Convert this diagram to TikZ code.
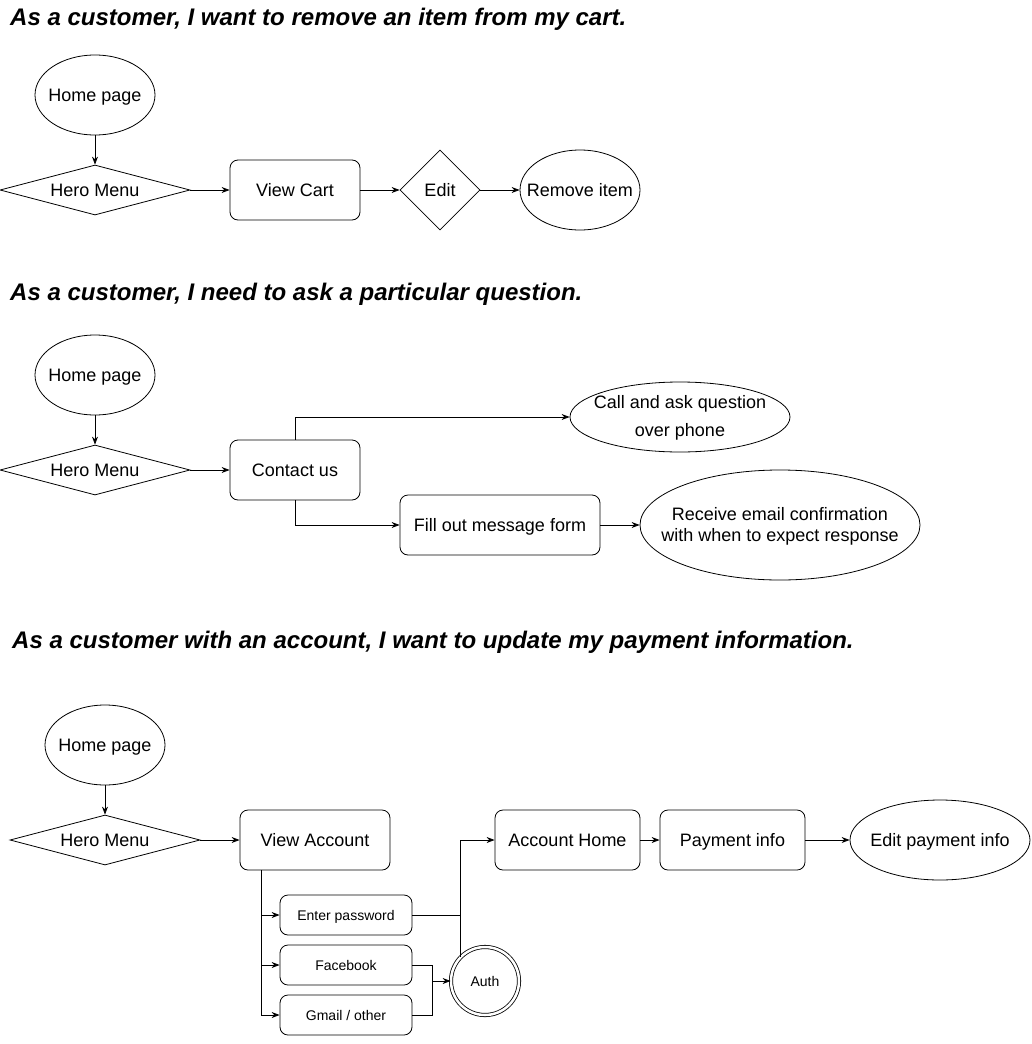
\documentclass[tikz,border=0pt]{standalone}
\usepackage{fontspec}
\setmainfont{Liberation Sans}
\usetikzlibrary{shapes.geometric,arrows.meta}
\tikzset{
  txt/.style={font=\fontsize{18}{21}\selectfont, align=center, inner sep=0pt},
  one/.style={text height=12.9pt, text depth=0pt},
  base/.style={draw=black, line width=0.8pt, inner sep=0pt},
  rbox/.style={base, rectangle, rounded corners=8pt},
  ell/.style={base, ellipse},
  dia/.style={base, diamond},
  title/.style={anchor=base west, inner sep=0pt, font=\fontsize{24}{28}\selectfont\bfseries\itshape},
  conn/.style={draw, line width=0.8pt, -{Stealth[length=8pt,width=6pt]}},
  small/.style={font=\fontsize{14}{17}\selectfont, align=center, inner sep=0pt, text height=10pt, text depth=0pt}
}
\begin{document}
\begin{tikzpicture}[x=1pt,y=-1pt]
\useasboundingbox (0,0) rectangle (1031,1044);

% ---------- Section 1 ----------
\node[title] (t1) at (10,25) {As a customer, I want to remove an item from my cart.};
\node[ell, minimum width=120pt, minimum height=80pt] (h1) at (95,95) {};
\node[txt, one] (h1t) at (h1) {Home page};
\node[dia, minimum width=190pt, minimum height=50pt] (m1) at (95,190) {};
\node[txt, one] (m1t) at (m1) {Hero Menu};
\node[rbox, minimum width=130pt, minimum height=60pt] (vc) at (295,190) {};
\node[txt, one] (vct) at (vc) {View Cart};
\node[dia, minimum width=80pt, minimum height=80pt] (ed) at (440,190) {};
\node[txt, one] (edt) at (ed) {Edit};
\node[ell, minimum width=120pt, minimum height=80pt] (ri) at (580,190) {};
\node[txt, one] (rit) at (ri) {Remove item};
\draw[conn] (h1) -- (m1);
\draw[conn] (m1) -- (vc);
\draw[conn] (vc) -- (ed);
\draw[conn] (ed) -- (ri);

% ---------- Section 2 ----------
\node[title] (t2) at (10,300) {As a customer, I need to ask a particular question.};
\node[ell, minimum width=120pt, minimum height=80pt] (h2) at (95,375) {};
\node[txt, one] (h2t) at (h2) {Home page};
\node[dia, minimum width=190pt, minimum height=50pt] (m2) at (95,470) {};
\node[txt, one] (m2t) at (m2) {Hero Menu};
\node[rbox, minimum width=130pt, minimum height=60pt] (cu) at (295,470) {};
\node[txt, one] (cut) at (cu) {Contact us};
\node[ell, minimum width=220pt, minimum height=70pt] (ca) at (680,417) {};
\node[txt, font=\fontsize{18}{28}\selectfont] (cat) at ([yshift=-1pt]ca.center) {Call and ask question\\over phone};
\node[rbox, minimum width=200pt, minimum height=60pt] (fo) at (500,525) {};
\node[txt, one] (fot) at (fo) {Fill out message form};
\node[ell, minimum width=280pt, minimum height=110pt] (re) at (780,525) {};
\node[txt] (ret) at ([yshift=-1pt]re.center) {Receive email confirmation\\with when to expect response};
\draw[conn] (h2) -- (m2);
\draw[conn] (m2) -- (cu);
\draw[conn] (cu.north) |- (ca.west);
\draw[conn] (cu.south) |- (fo.west);
\draw[conn] (fo) -- (re);

% ---------- Section 3 ----------
\node[title] (t3) at (12,648) {As a customer with an account, I want to update my payment information.};
\node[ell, minimum width=120pt, minimum height=80pt] (h3) at (105,745) {};
\node[txt, one] (h3t) at (h3) {Home page};
\node[dia, minimum width=190pt, minimum height=50pt] (m3) at (105,840) {};
\node[txt, one] (m3t) at (m3) {Hero Menu};
\node[rbox, minimum width=150pt, minimum height=60pt] (va) at (315,840) {};
\node[txt, one] (vat) at (va) {View Account};
\node[rbox, minimum width=145pt, minimum height=60pt] (ah) at (567.5,840) {};
\node[txt, one] (aht) at (ah) {Account Home};
\node[rbox, minimum width=145pt, minimum height=60pt] (pi) at (732.5,840) {};
\node[txt, one] (pit) at (pi) {Payment info};
\node[ell, minimum width=180pt, minimum height=80pt] (ep) at (940,840) {};
\node[txt, one] (ept) at (ep) {Edit payment info};
\node[rbox, minimum width=132pt, minimum height=40pt] (pw) at (346,915) {};
\node[small] (pwt) at (pw) {Enter password};
\node[rbox, minimum width=132pt, minimum height=40pt] (fb) at (346,965) {};
\node[small] (fbt) at (fb) {Facebook};
\node[rbox, minimum width=132pt, minimum height=40pt] (gm) at (346,1015) {};
\node[small] (gmt) at (gm) {Gmail / other};
\node[base, circle, double, double distance=2.5pt, minimum size=68pt] (au) at (485,981) {};
\node[small] (aut) at (au) {Auth};
\coordinate (vab) at (261,870);
\coordinate (jx) at (460,915);
\coordinate (fx) at (432,981);

\draw[conn] (h3) -- (m3);
\draw[conn] (m3) -- (va);
\draw[conn] (ah) -- (pi);
\draw[conn] (pi) -- (ep);
\draw[conn] (vab) |- (pw.west);
\draw[conn] (vab) |- (fb.west);
\draw[conn] (vab) |- (gm.west);
\draw[conn] (pw.east) -- (jx) |- (ah.west);
\draw[line width=0.8pt] (au.north west -| jx) -- (jx);
\draw[line width=0.8pt] (fb.east) -| (fx);
\draw[line width=0.8pt] (gm.east) -| (fx);
\draw[conn] (fx) -- (au.west);
\end{tikzpicture}
\end{document}
